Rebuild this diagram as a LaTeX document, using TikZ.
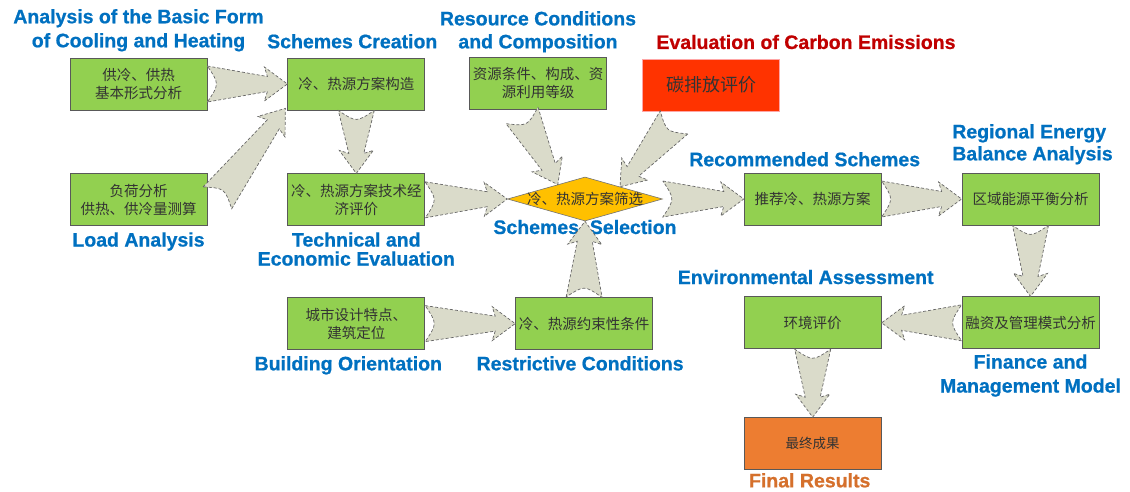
\documentclass[tikz,border=0pt]{standalone}
\usepackage{fontspec}
\setmainfont{Liberation Sans}
\newfontfamily\tagfont{Liberation Sans}[BoldFeatures={FakeBold=0.8}]
\newfontfamily\cjk{Noto Sans CJK SC}
\usetikzlibrary{positioning,shapes.geometric,calc}
\definecolor{boxgreen}{RGB}{146,208,80}
\definecolor{tagblue}{RGB}{0,112,192}
\definecolor{carbonred}{RGB}{255,51,0}
\definecolor{tagred}{RGB}{192,0,0}
\definecolor{selgold}{RGB}{255,192,0}
\definecolor{finalorange}{RGB}{237,125,49}
\definecolor{flowgrey}{RGB}{218,219,202}
\tikzset{
  block/.style={draw=black!65, line width=0.8pt, fill=boxgreen, minimum width=137pt, minimum height=52pt, inner sep=1pt, align=center, text=black!80, font=\cjk\fontsize{14.5}{18}\selectfont},
  selbox/.style={diamond, draw=black!55, line width=0.6pt, fill=selgold, minimum width=155pt, minimum height=44pt, inner sep=0pt, text=black!80, font=\cjk\fontsize{14.5}{18}\selectfont},
  tag/.style={inner sep=0pt, align=center, text=tagblue, font=\tagfont\bfseries\fontsize{19.5}{24}\selectfont},
  flow/.style={fill=flowgrey, draw=black!60, line width=0.7pt, densely dashed},
}
% fat tapered arrow from tail point to tip point
\newcommand{\flowarrow}[2]{%
  \coordinate (fa-t) at (#1);
  \coordinate (fa-h) at (#2);
  \coordinate (fa-n) at ($(fa-h)!20pt!(fa-t)$);
  \coordinate (fa-b) at ($(fa-h)!23pt!(fa-t)$);
  \draw[flow] ($(fa-t)!18pt!90:(fa-h)$) coordinate (fa-s)
    -- ($(fa-n)!7.5pt!90:(fa-h)$) -- ($(fa-b)!17pt!90:(fa-h)$) -- (fa-h)
    -- ($(fa-b)!17pt!-90:(fa-h)$) -- ($(fa-n)!7.5pt!-90:(fa-h)$)
    -- ($(fa-t)!18pt!-90:(fa-h)$)
    .. controls ($(fa-t)!12pt!(fa-h)$) .. (fa-s) -- cycle;
}

\begin{document}
\begin{tikzpicture}[x=1pt, y=-1pt]
\useasboundingbox (0,0) rectangle (1130,491);

% boxes
\node (cool)   [block] at (138.5,84) {供冷、供热\\基本形式分析};
\node (load)   [block, below=63pt of cool] {负荷分析\\供热、供冷量测算};
\node (create) [block, right=80pt of cool] {冷、热源方案构造};
\node (eval)   [block, below=63pt of create] {冷、热源方案技术经\\济评价};
\node (bld)    [block, below=71pt of eval] {城市设计特点、\\建筑定位};
\node (rst)    [block, right=90pt of bld] {冷、热源约束性条件};
\node (res)    [block] at (538,83) {资源条件、构成、资\\源利用等级};
\node (carbon) [block, fill=carbonred, draw=red!35, font=\cjk\fontsize{18}{22}\selectfont] at (711,85) {碳排放评价};
\node (sel)    [selbox] at (585,199) {\makebox[0pt]{冷、热源方案筛选}};
\node (rec)    [block, right=81pt of sel] {推荐冷、热源方案};
\node (reg)    [block, right=80pt of rec] {区域能源平衡分析};
\node (fin)    [block, below=71pt of reg] {融资及管理模式分析};
\node (env)    [block, left=80pt of fin] {环境评价};
\node (final)  [block, fill=finalorange, below=68pt of env, font=\cjk\fontsize{13.5}{18}\selectfont] {最终成果};

% english tags
\node (coollbl)   [tag, above=6pt of cool] {Analysis of the Basic Form\\of Cooling and Heating};
\node (createlbl) [tag, above=9pt of create, xshift=-4pt] {Schemes Creation};
\node (reslbl)    [tag, above=4pt of res, font=\tagfont\bfseries\fontsize{19.5}{23}\selectfont] {Resource Conditions\\and Composition};
\node (carbonlbl) [tag, text=tagred] at (806,42) {Evaluation of Carbon Emissions};
\node (loadlbl)   [tag, below=6pt of load] {Load Analysis};
\node (evallbl)   [tag, below=6pt of eval, font=\tagfont\bfseries\fontsize{19.5}{19}\selectfont] {Technical and\\Economic Evaluation};
\node (sellbl)    [tag] at (585,227) {Schemes\ \ Selection};
\node (reclbl)    [tag, above=6pt of rec, xshift=-8pt] {Recommended Schemes};
\node (reglbl)    [tag, align=left, font=\tagfont\bfseries\fontsize{19.5}{22}\selectfont, above=8pt of reg, xshift=2pt] {Regional Energy\\Balance Analysis};
\node (envlbl)    [tag, above=12pt of env, xshift=-7pt] {Environmental Assessment};
\node (finlbl)    [tag, below=5pt of fin] {Finance and\\Management Model};
\node (bldlbl)    [tag, below=6pt of bld, xshift=-8pt] {Building Orientation};
\node (rstlbl)    [tag, below=6pt of rst, xshift=-4pt] {Restrictive Conditions};
\node (finallbl)  [tag, text=finalorange!90!black, below=3pt of final, xshift=-3pt] {Final Results};

% flow arrows
\flowarrow{cool.east}{create.west}
\flowarrow{$(load.east)+(10,-2)$}{$(create.south west)+(-2,-2)$}
\flowarrow{create.south}{eval.north}
\flowarrow{eval.east}{sel.west}
\flowarrow{$(res.south)+(-16,6)$}{$(sel.north)!0.35!(sel.west)$}
\flowarrow{$(carbon.south)+(-37,11)$}{$(sel.north)!0.45!(sel.east)$}
\flowarrow{bld.east}{rst.west}
\flowarrow{rst.north}{sel.south}
\flowarrow{sel.east}{rec.west}
\flowarrow{rec.east}{reg.west}
\flowarrow{reg.south}{fin.north}
\flowarrow{fin.west}{env.east}
\flowarrow{env.south}{final.north}
\end{tikzpicture}
\end{document}
